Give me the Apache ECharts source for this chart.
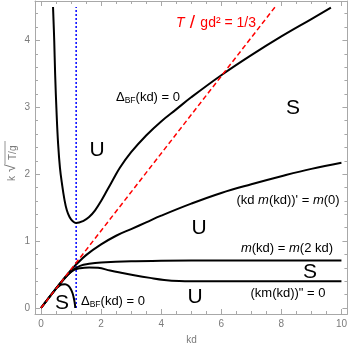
<!DOCTYPE html>
<html><head><meta charset="utf-8">
<script src="https://cdn.jsdelivr.net/npm/echarts@6/dist/echarts.min.js"></script>
<style>html,body{margin:0;padding:0;background:#fff}#c{width:350px;height:349px}</style>
</head><body><div id="c"></div>
<script>
// ---- data ----
const xMajorTicks = [0, 2, 4, 6, 8, 10];
const xMinorTicks = [0.5, 1, 1.5, 2.5, 3, 3.5, 4.5, 5, 5.5, 6.5, 7, 7.5, 8.5, 9, 9.5];
const yMajorTicks = [0, 1, 2, 3, 4];
const yMinorTicks = [0.2, 0.4, 0.6, 0.8, 1.2, 1.4, 1.6, 1.8, 2.2, 2.4, 2.6, 2.8, 3.2, 3.4, 3.6, 3.8, 4.2, 4.4];

const deltaBFUpper = [[0.40,4.5],[0.44,4.0],[0.47,3.5],[0.52,2.9],[0.57,2.45],[0.63,2.1],[0.70,1.85],[0.78,1.62],[0.86,1.46],[0.95,1.36],[1.05,1.30],[1.17,1.27],[1.4,1.30],[1.6,1.36],[1.8,1.46],[2.0,1.6],[2.2,1.76],[2.4,1.92],[2.63,2.1],[3.0,2.33],[3.5,2.58],[4.0,2.79],[4.5,2.97],[5,3.15],[6,3.48],[7,3.78],[8,4.06],[9,4.32],[9.65,4.49]];
const kdmCurve = [[0,0],[0.5,0.29],[1.0,0.57],[1.17,0.65],[1.5,0.79],[2.0,0.95],[2.5,1.08],[3.0,1.18],[3.5,1.28],[4.0,1.38],[5,1.56],[6,1.72],[7,1.85],[8,1.97],[9,2.08],[10,2.17]];
const mEqualCurve = [[0,0],[0.5,0.29],[0.9,0.5],[1.1,0.58],[1.3,0.63],[1.6,0.66],[2,0.68],[3,0.70],[4,0.705],[6,0.71],[10,0.71]];
const kmSecondCurve = [[0,0],[0.5,0.29],[0.9,0.5],[1.1,0.57],[1.3,0.595],[1.6,0.605],[1.9,0.6],[2.3,0.56],[2.63,0.53],[3.1,0.49],[3.63,0.45],[4.1,0.42],[4.6,0.405],[5.5,0.40],[10,0.40]];
const deltaBFLower = [[0.55,0.31],[0.62,0.335],[0.7,0.35],[0.8,0.355],[0.9,0.335],[0.98,0.29],[1.05,0.22],[1.1,0.13],[1.13,0.05],[1.14,0]];
const criticalLine = [[0,0],[7.79,4.5]];
const blueLine = [[1.17,0],[1.17,4.5]];

const xRange = [-0.2, 10.2];
const yRange = [-0.09, 4.59];

// ---- chart ----
const axisGray = '#a8a8a8';
const labelGray = '#7a7a7a';
const FONT = '"Liberation Sans", Arial, sans-serif';

function xAx(pos, ticks, len, showLine, labels) {
  return {
    type: 'value', position: pos, min: xRange[0], max: xRange[1], gridIndex: 0,
    axisLine: {show: showLine, onZero: false, lineStyle: {color: axisGray, width: 1}},
    axisTick: {show: true, inside: true, length: len, customValues: ticks, lineStyle: {color: axisGray}},
    axisLabel: labels ? {show: true, customValues: xMajorTicks, color: labelGray, fontSize: 10, fontFamily: FONT, margin: 5} : {show: false},
    splitLine: {show: false}
  };
}
function yAx(pos, ticks, len, showLine, labels) {
  return {
    type: 'value', position: pos, min: yRange[0], max: yRange[1], gridIndex: 0,
    axisLine: {show: showLine, onZero: false, lineStyle: {color: axisGray, width: 1}},
    axisTick: {show: true, inside: true, length: len, customValues: ticks, lineStyle: {color: axisGray}},
    axisLabel: labels ? {show: true, customValues: yMajorTicks, color: labelGray, fontSize: 10, fontFamily: FONT, margin: 5} : {show: false},
    splitLine: {show: false}
  };
}

function blackLine(data) {
  return {type: 'line', data: data, smooth: 0.4, showSymbol: false, symbol: 'none',
    lineStyle: {color: '#000', width: 2}, xAxisIndex: 0, yAxisIndex: 0, z: 3, silent: true};
}

const chart = echarts.init(document.getElementById('c'), null, {renderer: 'canvas'});
const rich = {
  n: {fontSize: 13, fontFamily: FONT, fill: '#000'},
  i: {fontSize: 13, fontFamily: FONT, fontStyle: 'italic', fill: '#000'},
  sub: {fontSize: 8.5, fontFamily: FONT, fill: '#000', verticalAlign: 'bottom', padding: [7, 0, 0, 0]}
};
function txt(x, y, text, size, extra) {
  return Object.assign({type: 'text', x: x, y: y, z: 10,
    style: {text: text, fontSize: size, fontFamily: FONT, fill: '#000', align: 'center', verticalAlign: 'middle', rich: rich}}, extra || {});
}

chart.setOption({
  animation: false,
  grid: {left: 35, right: 1.5, top: 1, bottom: 35, containLabel: false},
  xAxis: [
    xAx('bottom', xMajorTicks, 5, true, true),
    xAx('bottom', xMinorTicks, 3, false, false),
    xAx('top', xMajorTicks, 5, true, false),
    xAx('top', xMinorTicks, 3, false, false)
  ],
  yAxis: [
    yAx('left', yMajorTicks, 5, true, true),
    yAx('left', yMinorTicks, 3, false, false),
    yAx('right', yMajorTicks, 5, true, false),
    yAx('right', yMinorTicks, 3, false, false)
  ],
  series: [
    {type: 'line', data: blueLine, showSymbol: false, symbol: 'none', lineStyle: {color: '#0000ff', width: 1.5, type: [2, 2]}, z: 2, silent: true},
    {type: 'line', data: criticalLine, showSymbol: false, symbol: 'none', lineStyle: {color: '#ff0000', width: 1.5, type: [5, 3]}, z: 4, silent: true},
    blackLine(deltaBFUpper),
    blackLine(kdmCurve),
    blackLine(mEqualCurve),
    blackLine(kmSecondCurve),
    blackLine(deltaBFLower)
  ],
  graphic: [
    // red label
    {type: 'text', x: 216, y: 23, z: 10, style: {
      text: '{i|T}{s| / }{n|gd² = 1/3}', align: 'center', verticalAlign: 'middle', fill: '#ff0000',
      rich: {
        i: {fontSize: 14, fontFamily: FONT, fontStyle: 'italic', fill: '#ff0000'},
        s: {fontSize: 19, fontFamily: FONT, fill: '#ff0000'},
        n: {fontSize: 14, fontFamily: FONT, fill: '#ff0000'}
      }}},
    txt(148, 97, '{n|Δ}{sub|BF}{n|(kd) = 0}', 13),
    txt(113, 301, '{n|Δ}{sub|BF}{n|(kd) = 0}', 13),
    txt(288, 200, '{n|(kd }{i|m}{n|(kd))\' = }{i|m}{n|(0)}', 13),
    txt(287, 248, '{i|m}{n|(kd) = }{i|m}{n|(2 kd)}', 13),
    txt(288, 293, '{n|(km(kd))" = 0}', 13),
    txt(293, 108, 'S', 21),
    txt(97, 150, 'U', 21),
    txt(199, 228, 'U', 21),
    txt(310, 272, 'S', 21),
    txt(195, 297, 'U', 21),
    txt(62, 303, 'S', 21),
    // axis labels
    {type: 'text', x: 191.5, y: 340, z: 10, style: {text: 'kd', fontSize: 10, fontFamily: FONT, fill: labelGray, align: 'center', verticalAlign: 'middle'}},
    {type: 'group', x: 12, y: 157, rotation: Math.PI / 2, z: 10, children: [
      {type: 'text', x: -24, y: 0, style: {text: 'k', fontSize: 10, fontFamily: FONT, fill: labelGray, align: 'left', verticalAlign: 'middle'}},
      {type: 'text', x: -15, y: -1, style: {text: '√', fontSize: 14, fontFamily: FONT, fill: labelGray, align: 'left', verticalAlign: 'middle'}},
      {type: 'text', x: -3, y: 1, style: {text: 'T/g', fontSize: 10, fontFamily: FONT, fill: labelGray, align: 'left', verticalAlign: 'middle'}},
      {type: 'line', shape: {x1: -7, y1: -7, x2: 16, y2: -7}, style: {stroke: labelGray, lineWidth: 0.8}}
    ]}
  ]
});
</script>
</body></html>
